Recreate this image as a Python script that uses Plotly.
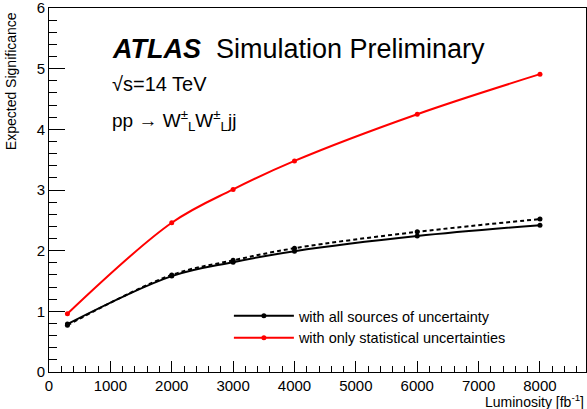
import plotly.graph_objects as go

luminosity = [300, 2000, 3000, 4000, 6000, 8000]
sig_all_unc = [0.79, 1.58, 1.81, 1.99, 2.24, 2.42]
sig_all_unc_dashed = [0.77, 1.60, 1.84, 2.04, 2.31, 2.52]
sig_stat_only = [0.96, 2.46, 3.01, 3.48, 4.25, 4.91]

FONT = "Liberation Sans, Arial, Helvetica, sans-serif"

fig = go.Figure()
fig.add_trace(go.Scatter(
    x=luminosity, y=sig_all_unc_dashed, mode="lines+markers",
    line=dict(color="black", width=2, dash="4px,3px", shape="spline"),
    marker=dict(color="black", size=5), showlegend=False))
fig.add_trace(go.Scatter(
    x=luminosity, y=sig_all_unc, mode="lines+markers",
    name="with all sources of uncertainty", legendgroup="a",
    line=dict(color="black", width=2, shape="spline"),
    marker=dict(color="black", size=5)))
fig.add_trace(go.Scatter(
    x=luminosity, y=sig_stat_only, mode="lines+markers",
    name="with only statistical uncertainties", legendgroup="b",
    line=dict(color="#ff0000", width=2, shape="spline"),
    marker=dict(color="#ff0000", size=5)))

axis_common = dict(showline=True, linecolor="black", linewidth=1, mirror=True,
                   ticks="inside", tickcolor="black", showgrid=False, zeroline=False,
                   automargin=False, ticklabeloverflow="allow",
                   tickfont=dict(family=FONT, size=15, color="black"))
fig.update_xaxes(range=[-0.01, 8750], dtick=1000, tick0=0, ticklen=11,
                 minor=dict(dtick=200, ticklen=6, ticks="inside", tickcolor="black"),
                 **axis_common)
fig.update_yaxes(range=[-0.001, 6.001], dtick=1, tick0=0, ticklen=16,
                 minor=dict(dtick=0.2, ticklen=8, ticks="inside", tickcolor="black"),
                 **axis_common)

fig.update_layout(
    width=587, height=409,
    margin=dict(l=49, r=1, t=8, b=37),
    paper_bgcolor="white", plot_bgcolor="white",
    font=dict(family=FONT, color="black"),
    legend=dict(x=0.335, y=0.198, xanchor="left", yanchor="top",
                bgcolor="rgba(0,0,0,0)", itemwidth=60, tracegroupgap=0,
                font=dict(family=FONT, size=14.5, color="black")),
    annotations=[
        dict(text="<b><i>ATLAS</i></b>  Simulation Preliminary", x=0.113, y=0.887,
             xref="paper", yref="paper", xanchor="left", yanchor="middle",
             showarrow=False, font=dict(family=FONT, size=27, color="black")),
        dict(text="√s=14 TeV", x=0.114, y=0.79, xref="paper", yref="paper",
             xanchor="left", yanchor="middle", showarrow=False,
             font=dict(family=FONT, size=20, color="black")),
        dict(text="pp → W<sup>±</sup><sub>L</sub>W<sup>±</sup><sub>L</sub>jj", x=0.114, y=0.69,
             xref="paper", yref="paper", xanchor="left", yanchor="middle",
             showarrow=False, font=dict(family=FONT, size=19, color="black")),
        dict(text="Expected Significance", textangle=-90, x=-0.072, y=0.995,
             xref="paper", yref="paper", xanchor="center", yanchor="top",
             showarrow=False, font=dict(family=FONT, size=14, color="black")),
        dict(text="Luminosity [fb<sup>-1</sup>]", x=1.0, y=-0.05,
             xref="paper", yref="paper", xanchor="right", yanchor="top",
             showarrow=False, font=dict(family=FONT, size=14, color="black")),
    ],
)

fig.write_html("out.html", config={"displayModeBar": False},
               post_script="document.body.style.margin='0';document.body.style.padding='0';")
